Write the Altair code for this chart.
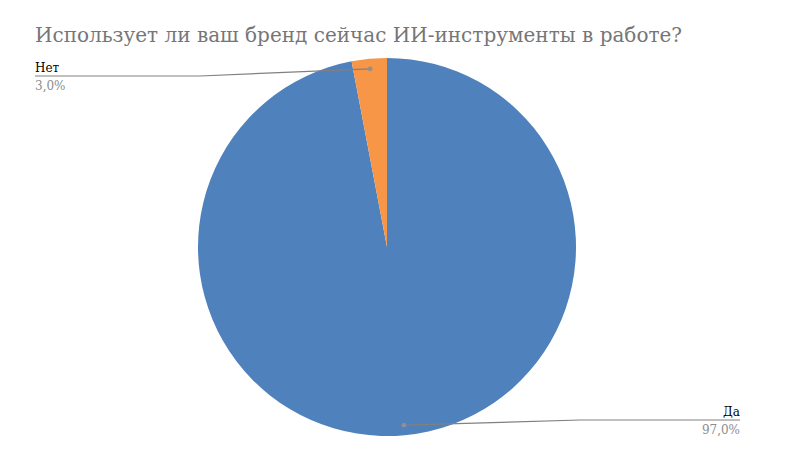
import math
import altair as alt
import pandas as pd

# ---- data ----
categories = ["Да", "Нет"]
shares = [97.0, 3.0]
colors = ["#4F81BD", "#F79646"]
title_text = "Использует ли ваш бренд сейчас ИИ-инструменты в работе?"

# ---- layout (chart pixel space: page x - 8, page y - 68) ----
P_TOP = 60
W, H = 788, 453 - P_TOP
CX, CY, R = 379, 179, 189
DOT_R = 0.947 * R
FONT = "DejaVu Serif"

pie_df = pd.DataFrame({"cat": categories, "val": shares, "order": [0, 1]})

# slice mid-angles for leader-line start points
total = sum(shares)
acc = 0.0
mids = []
for v in shares:
    mids.append((acc + v / 2) / total * 2 * math.pi)
    acc += v
dots = [(CX + DOT_R * math.sin(a), CY - DOT_R * math.cos(a)) for a in mids]

# label layout: (elbow_x, line_y, end_x, align, name_baseline, pct_baseline)
label_layout = {
    "Да": (572, 352, 732, "right", 348, 366),
    "Нет": (192, 8, 27, "left", 4, 22),
}

rows = []
for cat, v, (dx, dy) in zip(categories, shares, dots):
    ex, ly, endx, al, nb, pb = label_layout[cat]
    rows.append({
        "cat": cat,
        "pct": f"{v:.1f}".replace(".", ",") + "%",
        "dx": dx, "dy": dy, "ex": ex, "ly": ly, "endx": endx,
        "align": al, "nb": nb, "pb": pb,
    })
lab_df = pd.DataFrame(rows)

pie = alt.Chart(pie_df).mark_arc(stroke=None, outerRadius=R).encode(
    theta=alt.Theta("val:Q", stack=True),
    order=alt.Order("order:Q"),
    color=alt.Color("cat:N", scale=alt.Scale(domain=categories, range=colors), legend=None),
    x=alt.value(CX),
    y=alt.value(CY),
)

lb = alt.Chart(lab_df)
seg1 = lb.mark_rule(color="#808080", strokeWidth=1.2).encode(
    x=alt.X("dx:Q", scale=None), y=alt.Y("dy:Q", scale=None),
    x2="ex:Q", y2="ly:Q",
)
seg2 = lb.mark_rule(color="#808080", strokeWidth=1.2).encode(
    x=alt.X("ex:Q", scale=None), y=alt.Y("ly:Q", scale=None),
    x2="endx:Q", y2="ly:Q",
)
dot = lb.mark_circle(color="#8f8f8f", opacity=1, size=22).encode(
    x=alt.X("dx:Q", scale=None), y=alt.Y("dy:Q", scale=None),
)

title = alt.Chart(pd.DataFrame({"t": [title_text]})).mark_text(
    font=FONT, fontSize=20, color="#767676", align="left", baseline="alphabetic"
).encode(x=alt.value(27), y=alt.value(-26), text="t:N")

layers = [pie, seg1, seg2, dot, title]
for al in ["left", "right"]:
    sub = lb.transform_filter(alt.datum.align == al)
    layers.append(sub.mark_text(font=FONT, fontSize=12, color="#000000", align=al,
                                baseline="alphabetic").encode(
        x=alt.X("endx:Q", scale=None), y=alt.Y("nb:Q", scale=None), text="cat:N"))
    layers.append(sub.mark_text(font=FONT, fontSize=12, color="#8c8c8c", align=al,
                                baseline="alphabetic").encode(
        x=alt.X("endx:Q", scale=None), y=alt.Y("pb:Q", scale=None), text="pct:N"))

chart = alt.layer(*layers).properties(
    width=W, height=H,
    autosize=alt.AutoSizeParams(type="none"),
    padding={"top": P_TOP, "left": 0, "right": 0, "bottom": 0},
).configure(
    background="white",
    view=alt.ViewConfig(stroke=None),
)

chart.save("out.html", embed_options={"renderer": "svg", "actions": False})
